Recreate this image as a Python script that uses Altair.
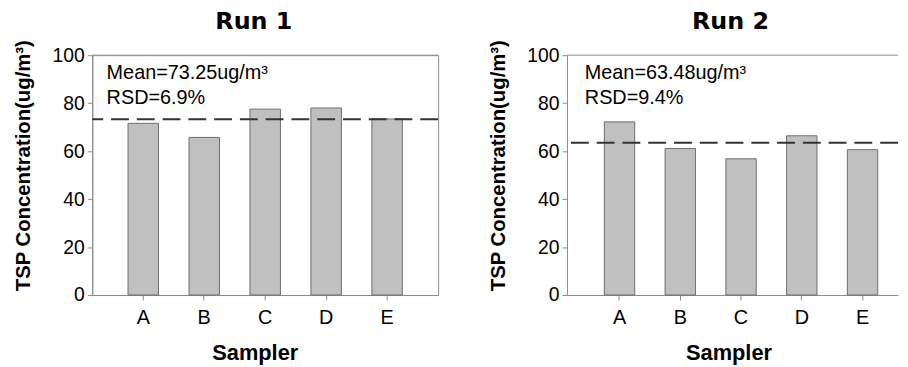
import altair as alt
import pandas as pd

samplers = ["A", "B", "C", "D", "E"]
run1_values = [71.6, 65.7, 77.5, 78.0, 73.4]
run2_values = [72.2, 61.1, 56.8, 66.4, 60.6]
run_titles = ["Run 1", "Run 2"]
mean_values = [73.25, 63.48]
mean_labels = ["Mean=73.25ug/m³", "Mean=63.48ug/m³"]
rsd_labels = ["RSD=6.9%", "RSD=9.4%"]
y_ticks = [0, 20, 40, 60, 80, 100]

FONT = "Liberation Sans"
TITLE_FONT = "DejaVu Sans"
GRAY = "#8c8c8c"


def panel(values, mean, mean_label, rsd_label, title, width, pad_outer, align,
          title_dx, xtitle_x, text_x, right_border):
    df = pd.DataFrame({"Sampler": samplers, "TSP": values})
    xscale = alt.Scale(paddingInner=0.5, paddingOuter=pad_outer, align=align)
    yscale = alt.Scale(domain=[0, 100], nice=False)
    bars = alt.Chart(df).mark_bar(color="#c0c0c0", stroke="#6e6e6e", strokeWidth=1).encode(
        x=alt.X("Sampler:N", sort=samplers, scale=xscale,
                axis=alt.Axis(title="Sampler", labelAngle=0, labelFontSize=20,
                              labelFont=FONT, labelColor="black", labelPadding=8,
                              tickSize=5, tickColor=GRAY, domainColor=GRAY,
                              titleFont=FONT, titleFontSize=22, titleFontWeight="bold",
                              titleColor="black", titleX=xtitle_x, titleY=65,
                              titleBaseline="alphabetic", titleAlign="center")),
        y=alt.Y("TSP:Q", scale=yscale,
                axis=alt.Axis(values=y_ticks, title="TSP Concentration(ug/m³)",
                              grid=False, labelFontSize=19.5, labelFont=FONT,
                              labelColor="black", labelPadding=3, tickSize=5,
                              tickColor=GRAY, domainColor=GRAY, titleFont=FONT,
                              titleFontSize=20.5, titleFontWeight="bold",
                              titleColor="black", titleAngle=270, titleX=-59,
                              titleY=111, titleAlign="center", titleBaseline="bottom")),
    )
    rule = alt.Chart(pd.DataFrame({"TSP": [mean]})).mark_rule(
        color="#333333", strokeWidth=2, strokeDash=[18, 8]).encode(y="TSP:Q")
    top = alt.Chart(pd.DataFrame({"TSP": [100]})).mark_rule(
        color=GRAY, strokeWidth=1).encode(y="TSP:Q")
    txt1 = alt.Chart(pd.DataFrame({"label": [mean_label]})).mark_text(
        align="left", baseline="alphabetic", fontSize=20, font=FONT, color="black"
    ).encode(x=alt.value(text_x), y=alt.value(24.5), text="label:N")
    txt2 = alt.Chart(pd.DataFrame({"label": [rsd_label]})).mark_text(
        align="left", baseline="alphabetic", fontSize=20, font=FONT, color="black"
    ).encode(x=alt.value(text_x), y=alt.value(49.5), text="label:N")
    layers = [bars, rule, top, txt1, txt2]
    ch = alt.layer(*layers).properties(
        width=width, height=242,
        title=alt.TitleParams(title, font=TITLE_FONT, fontSize=24, fontWeight="bold",
                              color="black", anchor="middle", dx=title_dx, offset=5),
        view=alt.ViewBackground(stroke=GRAY if right_border else "transparent", strokeWidth=1),
    )
    return ch


left = panel(run1_values, mean_values[0], mean_labels[0], rsd_labels[0], run_titles[0],
             349, 0.587, 0.5, -11.5, 164, 14.5, True)
right = panel(run2_values, mean_values[1], mean_labels[1], rsd_labels[1], run_titles[1],
              334, 0.474, 0.648, -2, 163, 18, False)

chart = alt.hconcat(left, right, spacing=48).properties(
    padding={"left": 5, "top": 0, "right": 0, "bottom": 0},
    background="white",
)

chart.save("out.html", embed_options={"renderer": "svg", "actions": False})
